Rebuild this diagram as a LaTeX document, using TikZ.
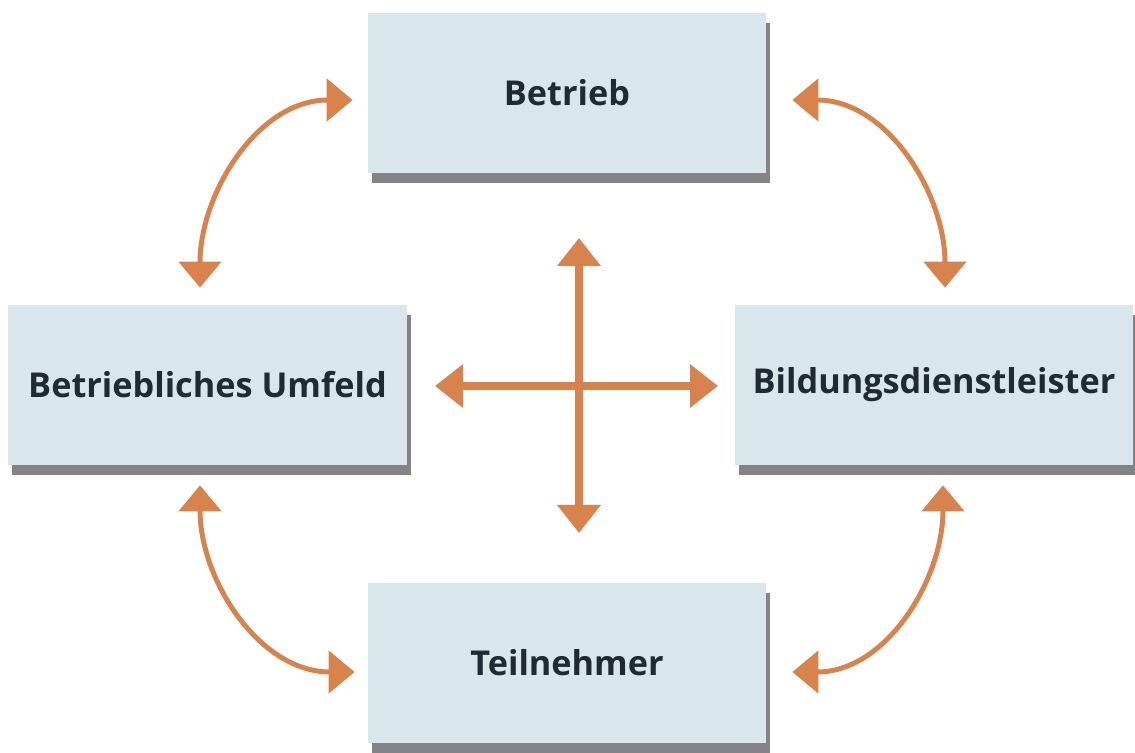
\documentclass[tikz,border=0pt]{standalone}
\usepackage{fontspec}
\setmainfont{Open Sans}
\usepackage{xcolor}
\usetikzlibrary{arrows.meta,shadows}
\definecolor{BoxFill}{HTML}{D9E6EC}
\definecolor{BoxInk}{HTML}{1F2A35}
\definecolor{Rust}{HTML}{D9834C}
\definecolor{Shade}{HTML}{6E6F73}

\begin{document}
\begin{tikzpicture}[
  box/.style={fill=BoxFill,minimum width=7.96cm,minimum height=3.2cm,inner sep=0pt,
    text=BoxInk,font=\fontsize{19.5}{23}\selectfont\bfseries,
    drop shadow={shadow xshift=0.08cm,shadow yshift=-0.2cm,fill=Shade,opacity=.85}},
  swing/.style={Rust,line width=0.1cm,{Triangle[width=0.84cm,length=0.52cm]}-{Triangle[width=0.84cm,length=0.52cm]}},
  cross/.style={Rust,line width=0.15cm,{Triangle[width=0.84cm,length=0.56cm]}-{Triangle[width=0.84cm,length=0.56cm]}}]
\useasboundingbox (0,0) rectangle (22.7,15.04);
\node[box] (betrieb) at (11.34,13.18) {Betrieb};
\node[box,minimum width=7.98cm] (umfeld) at (4.15,7.34) {Betriebliches Umfeld};
\node[box] (bildung) at (18.68,7.34) {Bildungsdienstleister};
\node[box] (teiln) at (11.34,1.78) {Teilnehmer};
\coordinate (hub) at (11.58,7.32);
\draw[swing] ([shift={(-0.15,0.34)}]umfeld.north) to[out=90,in=180] ([shift={(-0.30,-0.14)}]betrieb.west);
\draw[swing] ([shift={(0.52,-0.14)}]betrieb.east) to[out=0,in=90] ([shift={(0.22,0.34)}]bildung.north);
\draw[swing] ([shift={(-0.15,-0.40)}]umfeld.south) to[out=-90,in=180] ([shift={(-0.26,-0.18)}]teiln.west);
\draw[swing] ([shift={(0.18,-0.40)}]bildung.south) to[out=-90,in=0] ([shift={(0.52,-0.18)}]teiln.east);
\draw[cross] ([yshift=2.96cm]hub) -- ([yshift=-2.94cm]hub);
\draw[cross] ([xshift=-2.88cm]hub) -- ([xshift=2.78cm]hub);
\end{tikzpicture}
\end{document}
